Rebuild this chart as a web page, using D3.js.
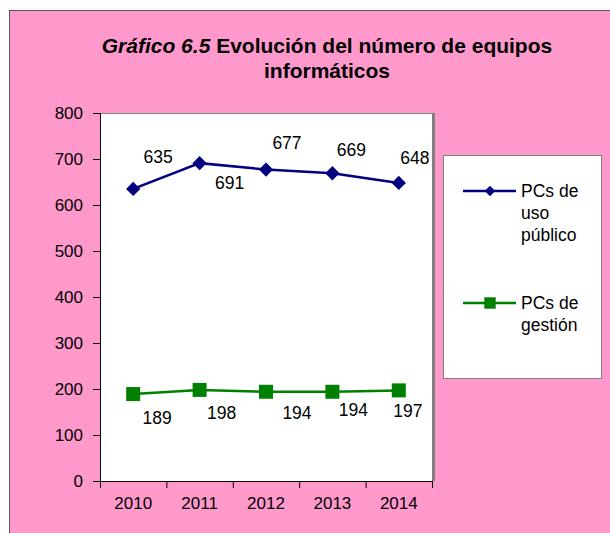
<html lang="es">
<head>
  <meta charset="UTF-8"/>
  <title>Gráfico 6.5</title>
  <script src="https://d3js.org/d3.v7.min.js"></script>
  <style>
    body { margin: 0; background: #fff; }
    svg { font-family: Arial, 'Liberation Sans', sans-serif; }
  </style>
</head>
<body>
<svg width="610" height="533"></svg>
<script>
  const years = ['2010', '2011', '2012', '2013', '2014'];
  const publico = [635, 691, 677, 669, 648];
  const gestion = [189, 198, 194, 194, 197];
  const yTicks = [0, 100, 200, 300, 400, 500, 600, 700, 800];

  // label offsets from the point (layout only)
  const publicoOff = [[25, -32], [30, 20], [21, -27], [19, -23], [16, -25]];
  const gestionOff = [[24, 24], [22, 23], [31, 21], [21, 18], [9, 21]];

  const svg = d3.select('svg');

  svg.append('rect')
    .attr('x', 9.5).attr('y', 10.5)
    .attr('width', 620).attr('height', 540)
    .attr('fill', '#ff99cc')
    .attr('stroke', '#555').attr('stroke-width', 1);

  const pLeft = 100, pRight = 432, pTop = 113, pBottom = 481;

  const x = d3.scaleBand().domain(years).range([pLeft, pRight]);
  const y = d3.scaleLinear().domain([0, 800]).range([pBottom, pTop]);

  svg.append('rect')
    .attr('x', pLeft).attr('y', pTop)
    .attr('width', pRight - pLeft).attr('height', pBottom - pTop)
    .attr('fill', '#fff');
  // 3d-ish gray borders top/right
  svg.append('line').attr('x1', pLeft).attr('y1', pTop + 0.5).attr('x2', pRight).attr('y2', pTop + 0.5)
    .attr('stroke', '#808080').attr('stroke-width', 1);
  svg.append('line').attr('x1', pRight + 1.5).attr('y1', pTop).attr('x2', pRight + 1.5).attr('y2', pBottom)
    .attr('stroke', '#808080').attr('stroke-width', 3);

  const yAxis = svg.append('g')
    .attr('transform', `translate(${pLeft},0)`)
    .call(d3.axisLeft(y).tickValues(yTicks).tickSize(7).tickPadding(10));
  yAxis.select('.domain').attr('stroke', '#000');
  yAxis.selectAll('text').style('font-size', '17px').attr('fill', '#000');

  const xAxis = svg.append('g')
    .attr('transform', `translate(0,${pBottom})`)
    .call(d3.axisBottom(x).tickSize(0).tickPadding(16));
  xAxis.select('.domain').attr('stroke', '#000');
  xAxis.selectAll('text').style('font-size', '17px').attr('fill', '#000');
  // tick marks between categories
  const bounds = years.map(d => x(d)).concat([pRight]);
  xAxis.selectAll('.bt').data(bounds).enter().append('line')
    .attr('x1', d => d + 0.5).attr('x2', d => d + 0.5)
    .attr('y1', 0).attr('y2', 7).attr('stroke', '#000');

  const cx = d => x(d) + x.bandwidth() / 2;
  const line = d3.line().x((d, i) => cx(years[i])).y(d => y(d));

  function series(vals, offs, color, symbol) {
    svg.append('path').datum(vals)
      .attr('d', line).attr('fill', 'none')
      .attr('stroke', color).attr('stroke-width', 2.5);
    svg.selectAll(null).data(vals).enter().append('path')
      .attr('transform', (d, i) => `translate(${cx(years[i])},${y(d)})`)
      .attr('d', symbol).attr('fill', color);
    svg.selectAll(null).data(vals).enter().append('text')
      .attr('x', (d, i) => cx(years[i]) + offs[i][0])
      .attr('y', (d, i) => y(d) + offs[i][1])
      .attr('text-anchor', 'middle').attr('dominant-baseline', 'central')
      .style('font-size', '17.5px').attr('fill', '#000')
      .text(d => d);
  }
  const diamond = d3.symbol().type(d3.symbolDiamond2).size(130)();
  const square = d3.symbol().type(d3.symbolSquare).size(196)();
  series(publico, publicoOff, '#000080', diamond);
  series(gestion, gestionOff, '#008000', square);

  // title
  const title = svg.append('text')
    .attr('x', 327).attr('y', 53)
    .attr('text-anchor', 'middle')
    .style('font-size', '21px').attr('font-weight', 'bold');
  title.append('tspan').attr('font-style', 'italic').text('Gráfico 6.5');
  title.append('tspan').text(' Evolución del número de equipos');
  svg.append('text')
    .attr('x', 327).attr('y', 78)
    .attr('text-anchor', 'middle')
    .style('font-size', '21px').attr('font-weight', 'bold')
    .text('informáticos');

  // legend
  svg.append('rect')
    .attr('x', 443.5).attr('y', 155.5)
    .attr('width', 158).attr('height', 223)
    .attr('fill', '#fff').attr('stroke', '#808080');
  const legend = [
    { lines: ['PCs de', 'uso', 'público'], color: '#000080', sym: d3.symbol().type(d3.symbolDiamond2).size(70)(), y: 191 },
    { lines: ['PCs de', 'gestión'], color: '#008000', sym: d3.symbol().type(d3.symbolSquare).size(130)(), y: 303 }
  ];
  legend.forEach(l => {
    svg.append('line').attr('x1', 463).attr('x2', 516)
      .attr('y1', l.y).attr('y2', l.y)
      .attr('stroke', l.color).attr('stroke-width', 2.5);
    svg.append('path').attr('transform', `translate(490,${l.y})`)
      .attr('d', l.sym).attr('fill', l.color);
    l.lines.forEach((t, i) => {
      svg.append('text')
        .attr('x', 521).attr('y', l.y + i * 22)
        .attr('dominant-baseline', 'central')
        .style('font-size', '17.5px').attr('fill', '#000')
        .text(t);
    });
  });
</script>
</body>
</html>
